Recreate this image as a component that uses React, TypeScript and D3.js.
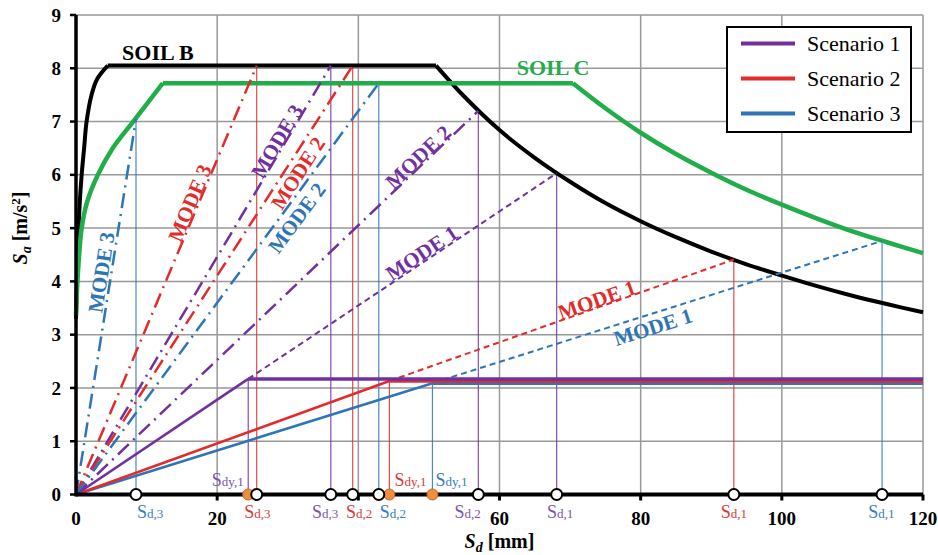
import React from 'react';
import * as d3 from 'd3';

const W = 938;
const H = 555;

const xTicks = [0, 20, 40, 60, 80, 100, 120];
// the "40" label is hidden behind the point labels in the original
const xTickLabels = [0, 20, 60, 80, 100, 120];
const yTicks = [0, 1, 2, 3, 4, 5, 6, 7, 8, 9];

// Elastic response spectra (Sd [mm], Sa [m/s2])
const soilBAsc: [number, number][] = [
  [0, 3.3], [0.1, 3.9], [0.25, 4.6], [0.5, 5.4], [0.8, 6.0], [1.15, 6.5], [1.5, 7.0], [2.2, 7.5], [3.0, 7.8], [4.5, 8.05],
];
const soilBPlateauEnd: [number, number] = [51, 8.05];
const soilBDesc: [number, number][] = [
  [51, 8.05], [55, 7.47], [60, 6.84], [65, 6.32], [70, 5.87], [75, 5.47], [80, 5.13], [85, 4.83], [90, 4.56],
  [95, 4.32], [100, 4.11], [105, 3.91], [110, 3.73], [115, 3.57], [120, 3.42],
];
const soilCAsc: [number, number][] = [
  [0, 3.35], [0.2, 4.0], [0.45, 4.5], [0.8, 5.0], [1.6, 5.5], [3.1, 6.0], [5.2, 6.5], [8.1, 7.0], [12.3, 7.72],
];
const soilCPlateauEnd: [number, number] = [70.4, 7.72];
const soilCDesc: [number, number][] = [
  [70.4, 7.72], [75, 7.25], [80, 6.79], [85, 6.39], [90, 6.04], [95, 5.72], [100, 5.44], [105, 5.18],
  [110, 4.94], [115, 4.73], [120, 4.53],
];

const scenarioNames = ['Scenario 1', 'Scenario 2', 'Scenario 3'];
const scenarioColors = ['#7030a0', '#e32b2b', '#2e75b6'];
const labelColors = ['#7d55a8', '#d63a3a', '#3a7dbd'];

// bilinear capacity: yield point
const yieldSd = [24.4, 44.4, 50.5];
const yieldSa = [2.17, 2.13, 2.09];
// performance points on spectra per mode
const mode1Sd = [68.1, 93.2, 114.2];
const mode1Sa = [6.03, 4.41, 4.76];
const mode2Sd = [57.0, 39.2, 42.9];
const mode2Sa = [7.2, 8.05, 7.72];
const mode3Sd = [36.1, 25.6, 8.5];
const mode3Sa = [8.05, 8.05, 7.05];

const modeNames = ['MODE 1', 'MODE 2', 'MODE 3'];
const sdLabels = ['d,1', 'd,2', 'd,3'];

// annotation layout (data coordinates)
const modeLabelAt: [number, number][][] = [
  [[49.0, 4.53], [48.5, 6.33], [28.5, 6.63]],
  [[73.8, 3.65], [31.45, 6.03], [16.15, 5.47]],
  [[81.75, 3.14], [31.3, 5.19], [3.6, 4.17]],
];
const sdLabelX = [
  [68.6, 55.5, 35.3],
  [93.2, 40.1, 25.7],
  [114.1, 44.9, 10.5],
];
const sdyLabelX = [21.5, 47.4, 53.2];

const FONT = "'Liberation Serif', 'Times New Roman', serif";

export default function App() {
  const x = d3.scaleLinear().domain([0, 120]).range([76, 923]);
  const y = d3.scaleLinear().domain([0, 9]).range([494.5, 15]);

  const curve = d3.line<[number, number]>().x(d => x(d[0])).y(d => y(d[1])).curve(d3.curveCatmullRom);
  const lin = d3.line<[number, number]>().x(d => x(d[0])).y(d => y(d[1]));

  const angle = (x1: number, y1: number, x2: number, y2: number) =>
    (Math.atan2(y(y2) - y(y1), x(x2) - x(x1)) * 180) / Math.PI;

  const dash1 = '6,4';
  const dashDot = '15,6,2,6';

  return (
    <svg width={W} height={H} style={{ position: 'absolute', left: 0, top: 0, background: '#fff' }} fontFamily={FONT}>
      <rect width={W} height={H} fill="#fff" />
      {/* grid */}
      {xTicks.filter(t => t > 0).map(t => (
        <line key={'gx' + t} x1={x(t)} x2={x(t)} y1={y(0)} y2={y(9)} stroke="#999" strokeWidth={1.5} />
      ))}
      {yTicks.filter(t => t > 0).map(t => (
        <line key={'gy' + t} x1={x(0)} x2={x(120)} y1={y(t)} y2={y(t)} stroke="#999" strokeWidth={1.5} />
      ))}

      {/* thin verticals */}
      {scenarioColors.map((c, i) => {
        const pts: [number, number][] = [
          [mode1Sd[i], mode1Sa[i]], [mode2Sd[i], mode2Sa[i]], [mode3Sd[i], mode3Sa[i]], [yieldSd[i], yieldSa[i]],
        ];
        return pts.map((p, j) => (
          <line key={'v' + i + j} x1={x(p[0])} x2={x(p[0])} y1={y(p[1])} y2={y(0)} stroke={c} strokeWidth={1.2} opacity={0.85} />
        ));
      })}

      {/* spectra */}
      <path d={curve(soilBAsc) || ''} fill="none" stroke="#000" strokeWidth={4} strokeLinejoin="round" />
      <path d={lin([soilBAsc[soilBAsc.length - 1], soilBPlateauEnd]) || ''} fill="none" stroke="#000" strokeWidth={4} />
      <path d={curve(soilBDesc) || ''} fill="none" stroke="#000" strokeWidth={4} />
      <path d={curve(soilCAsc) || ''} fill="none" stroke="#22ad4b" strokeWidth={4.5} />
      <path d={lin([soilCAsc[soilCAsc.length - 1], soilCPlateauEnd]) || ''} fill="none" stroke="#22ad4b" strokeWidth={4.5} />
      <path d={curve(soilCDesc) || ''} fill="none" stroke="#22ad4b" strokeWidth={4.5} />

      {/* mode demand lines */}
      {scenarioColors.map((c, i) => (
        <g key={'m' + i}>
          <path d={lin([[yieldSd[i], yieldSa[i]], [mode1Sd[i], mode1Sa[i]]]) || ''} stroke={c} strokeWidth={2} strokeDasharray={dash1} fill="none" />
          <path d={lin([[0, 0], [mode2Sd[i], mode2Sa[i]]]) || ''} stroke={c} strokeWidth={2.5} strokeDasharray={dashDot} fill="none" />
          <path d={lin([[0, 0], [mode3Sd[i], mode3Sa[i]]]) || ''} stroke={c} strokeWidth={2.5} strokeDasharray={dashDot} fill="none" />
        </g>
      ))}

      {/* capacity curves */}
      {[2, 1, 0].map(i => (
        <g key={'c' + i}>
          <path d={lin([[0, 0], [yieldSd[i], yieldSa[i]]]) || ''} stroke={scenarioColors[i]} strokeWidth={2.6} fill="none" />
          <path d={lin([[yieldSd[i], yieldSa[i]], [120, yieldSa[i]]]) || ''} stroke={scenarioColors[i]} strokeWidth={3.5} fill="none" />
        </g>
      ))}

      {/* axes */}
      <line x1={x(0)} x2={x(0)} y1={y(0) + 2} y2={y(9)} stroke="#000" strokeWidth={3.5} />
      <line x1={x(0)} x2={x(120)} y1={y(0)} y2={y(0)} stroke="#000" strokeWidth={4} />
      {yTicks.map(t => (
        <g key={'yt' + t}>
          <line x1={x(0) - 6} x2={x(0)} y1={y(t)} y2={y(t)} stroke="#000" strokeWidth={2.5} />
          <text x={61} y={y(t)} dy="0.35em" textAnchor="end" fontSize={19} fontWeight="bold">{t}</text>
        </g>
      ))}
      {xTicks.filter(t => t > 0).map(t => (
        <line key={'xt' + t} x1={x(t)} x2={x(t)} y1={y(0)} y2={y(0) + 6} stroke="#000" strokeWidth={3} />
      ))}
      {xTickLabels.map(t => (
        <text key={'xl' + t} x={x(t)} y={525} textAnchor="middle" fontSize={19} fontWeight="bold">{t}</text>
      ))}
      <text x={x(60)} y={548} textAnchor="middle" fontSize={20} fontWeight="bold">
        <tspan fontStyle="italic">S</tspan><tspan fontStyle="italic" fontSize={14} dy={4}>d</tspan><tspan dy={-4}> [mm]</tspan>
      </text>
      <text transform="translate(27,228) rotate(-90)" textAnchor="middle" fontSize={20} fontWeight="bold">
        <tspan fontStyle="italic">S</tspan><tspan fontStyle="italic" fontSize={14} dy={4}>a</tspan><tspan dy={-4}> [m/s</tspan><tspan fontSize={13} dy={-7}>2</tspan><tspan dy={7}>]</tspan>
      </text>

      {/* points on axis */}
      {scenarioColors.map((c, i) => (
        <circle key={'oy' + i} cx={x(yieldSd[i])} cy={y(0)} r={5.5} fill="#f08e3c" stroke="#b8692a" strokeWidth={1} />
      ))}
      {scenarioColors.map((c, i) =>
        [mode1Sd[i], mode2Sd[i], mode3Sd[i]].map((sd, j) => (
          <circle key={'w' + i + j} cx={x(sd)} cy={y(0)} r={5.5} fill="#fff" stroke="#000" strokeWidth={2} />
        ))
      )}
      {scenarioColors.map((c, i) =>
        sdLabelX[i].map((lx, j) => (
          <text key={'sl' + i + j} x={x(lx)} y={518} textAnchor="middle" fill={labelColors[i]}>
            <tspan fontSize={18}>S</tspan><tspan fontSize={13}>{sdLabels[j]}</tspan>
          </text>
        ))
      )}
      {scenarioColors.map((c, i) => (
        <text key={'sdy' + i} x={x(sdyLabelX[i])} y={486} textAnchor="middle" fill={labelColors[i]}>
          <tspan fontSize={18}>S</tspan><tspan fontSize={13}>dy,1</tspan>
        </text>
      ))}

      {/* mode labels */}
      {scenarioColors.map((c, i) => {
        const ends: [number, number, number, number][] = [
          [yieldSd[i], yieldSa[i], mode1Sd[i], mode1Sa[i]],
          [0, 0, mode2Sd[i], mode2Sa[i]],
          [0, 0, mode3Sd[i], mode3Sa[i]],
        ];
        return ends.map((e, j) => {
          const a = angle(e[0], e[1], e[2], e[3]);
          const p = modeLabelAt[i][j];
          return (
            <text key={'ml' + i + j} transform={`translate(${x(p[0])},${y(p[1])}) rotate(${a})`} textAnchor="middle"
              dominantBaseline="central" fontSize={21} fontWeight="bold" fill={c}>
              {modeNames[j]}
            </text>
          );
        });
      })}

      <text x={x(11.6)} y={y(8.3)} dy="0.35em" textAnchor="middle" fontSize={22} fontWeight="bold" fill="#000">SOIL B</text>
      <text x={x(67.6)} y={y(8.02)} dy="0.35em" textAnchor="middle" fontSize={22} fontWeight="bold" fill="#22ad4b">SOIL C</text>

      {/* legend */}
      <rect x={727} y={27} width={184} height={105} fill="#fff" stroke="#000" strokeWidth={2} />
      {scenarioNames.map((n, i) => (
        <g key={'lg' + i}>
          <line x1={741} x2={795} y1={43.5 + i * 35} y2={43.5 + i * 35} stroke={scenarioColors[i]} strokeWidth={4} />
          <text x={807} y={43.5 + i * 35} dy="0.35em" fontSize={22}>{n}</text>
        </g>
      ))}
    </svg>
  );
}
